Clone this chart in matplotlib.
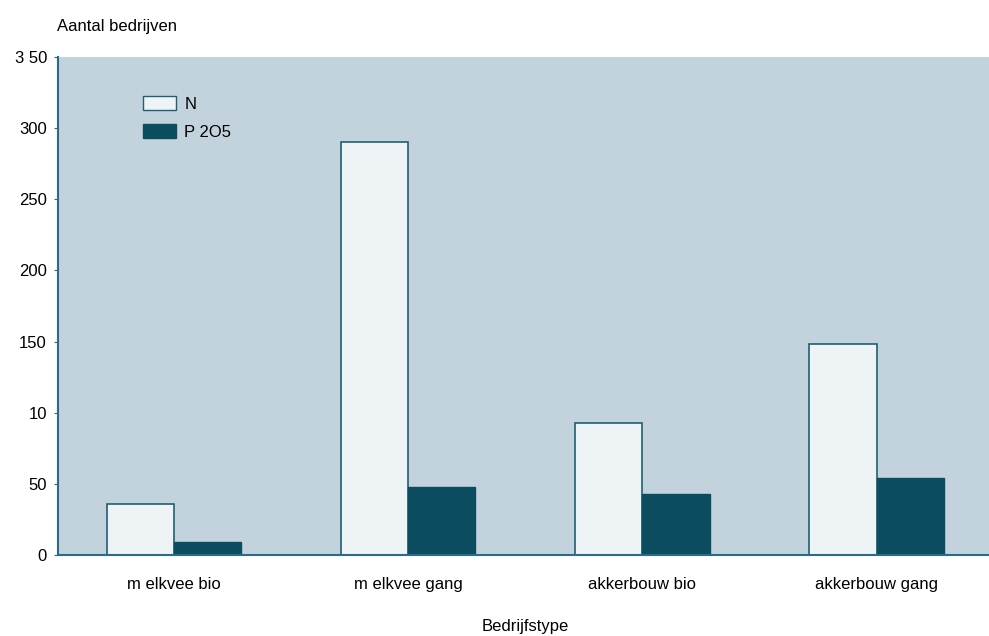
import matplotlib
matplotlib.use("Agg")
import matplotlib.pyplot as plt
import numpy as np
from matplotlib.patches import Patch

categories = ["m elkvee bio", "m elkvee gang", "akkerbouw bio", "akkerbouw gang"]
n_values = [36, 290, 93, 148]
p2o5_values = [9, 48, 43, 54]
series_names = ["N", "P2O5"]
legend_labels = ["N", "P 2O5"]
ytick_values = [0, 50, 100, 150, 200, 250, 300, 350]
ytick_labels = ["0", "50", "10", "150", "200", "250", "300", "3 50"]

bg = "#c2d3de"
dark = "#0b4d5e"
light = "#eef3f6"
edge = "#1f5f70"

plt.rcParams["font.family"] = ["Liberation Sans", "DejaVu Sans"]

fig = plt.figure(figsize=(9.89, 6.36), dpi=100)
ax = fig.add_axes([58/989, 81/636, 931/989, 498/636])
ax.set_facecolor(bg)

x = np.arange(len(categories))
w = 0.287
ax.bar(x - w/2, n_values, width=w, color=light, edgecolor=edge, linewidth=1.2, zorder=2)
ax.bar(x + w/2, p2o5_values, width=w, color=dark, edgecolor=dark, linewidth=1.0, zorder=2)

ax.set_xlim(-0.495, 3.48)
ax.set_ylim(0, 350)
ax.set_yticks(ytick_values)
ax.set_yticklabels(ytick_labels)
ax.set_xticks(x)
ax.set_xticklabels(categories)

for s in ["top", "right"]:
    ax.spines[s].set_visible(False)
ax.spines["left"].set_color("#2a6a8a")
ax.spines["bottom"].set_color("#2a6a8a")
ax.spines["left"].set_linewidth(1.5)
ax.spines["bottom"].set_linewidth(1.5)
ax.tick_params(axis="y", length=3, color="#2a6a8a", labelsize=12, pad=5)
ax.tick_params(axis="x", length=0, labelsize=12, pad=16)

fig.text(57/989, 1 - 27/636, "Aantal bedrijven", fontsize=12, ha="left", va="center")
fig.text(525/989, 1 - 626/636, "Bedrijfstype", fontsize=12, ha="center", va="center")

handles = [Patch(facecolor=light, edgecolor=edge), Patch(facecolor=dark, edgecolor=dark)]
ax.legend(handles, legend_labels, loc="upper left", bbox_to_anchor=(0.091, 0.922),
          frameon=False, fontsize=12, handlelength=2.0, handleheight=0.9,
          handletextpad=0.5, labelspacing=0.75, borderpad=0, borderaxespad=0)

fig.savefig("out.png", dpi=100)
